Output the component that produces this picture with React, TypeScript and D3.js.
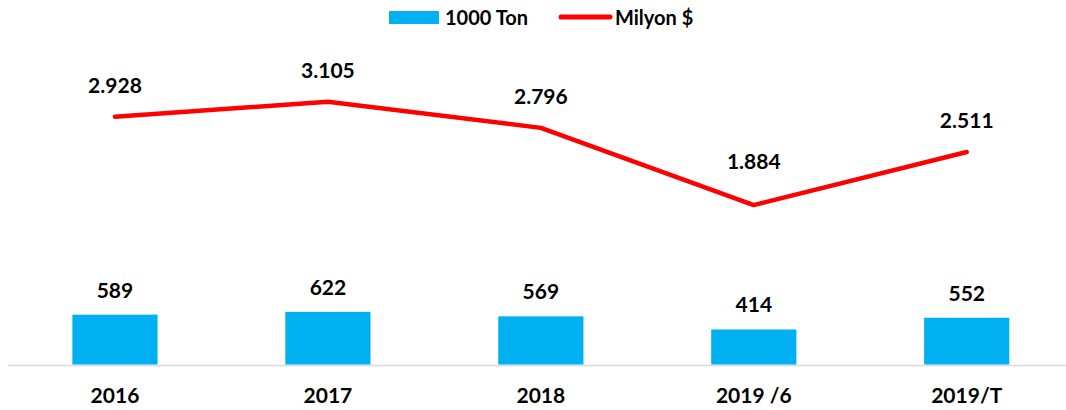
import React from "react";
import * as d3 from "d3";

const categories = ["2016", "2017", "2018", "2019 /6", "2019/T"];
const tonValues = [589, 622, 569, 414, 552];
const usdValues = [2.928, 3.105, 2.796, 1.884, 2.511];

const W = 1066;
const H = 410;
const FONT = "Lato, 'Liberation Sans', sans-serif";

const App = () => {
  const x = d3.scaleBand().domain(categories).range([8.5, 1073.2]).padding(0);
  const bw = x.bandwidth();
  const barW = bw * 0.4;
  const yLine = d3.scaleLinear().domain([0, 4]).range([364.5, 26]);
  const yBar = d3.scaleLinear().domain([0, 4000]).range([364.5, 26]);
  const cx = (c) => (x(c) as number) + bw / 2;

  const line = d3
    .line<number>()
    .x((_, i) => cx(categories[i]))
    .y((d) => yLine(d));

  const fmt = (v) => d3.format(".3f")(v);
  const minUsd = d3.min(usdValues);

  return (
    <svg width={W} height={H} style={{ position: "absolute", left: 0, top: 0 }}>
      <rect width={W} height={H} fill="#fff" />
      {/* legend */}
      <rect x={389} y={11} width={50} height={13} fill="#00b0f0" />
      <text x={445} y={25} fontFamily={FONT} fontWeight="bold" fontSize={20}>
        1000 Ton
      </text>
      <line x1={561} x2={610} y1={17} y2={17} stroke="#ff0000" strokeWidth={5} strokeLinecap="round" />
      <text x={615} y={25} fontFamily={FONT} fontWeight="bold" fontSize={20}>
        Milyon $
      </text>

      {/* axis line */}
      <line x1={8} x2={W} y1={365.5} y2={365.5} stroke="#d9d9d9" strokeWidth={1.5} />

      {/* bars */}
      {tonValues.map((v, i) => (
        <g key={categories[i]}>
          <rect
            x={cx(categories[i]) - barW / 2}
            y={yBar(v)}
            width={barW}
            height={yBar(0) - yBar(v)}
            fill="#00b0f0"
          />
          <text
            x={cx(categories[i])}
            y={yBar(v) - 17}
            textAnchor="middle"
            fontFamily={FONT}
            fontWeight="bold"
            fontSize={21}
          >
            {v}
          </text>
          <text
            x={cx(categories[i])}
            y={403}
            textAnchor="middle"
            fontFamily={FONT}
            fontWeight="bold"
            fontSize={21}
          >
            {categories[i]}
          </text>
        </g>
      ))}

      {/* line */}
      <path d={line(usdValues) || ""} fill="none" stroke="#ff0000" strokeWidth={4.5} strokeLinecap="round" strokeLinejoin="round" />
      {usdValues.map((v, i) => (
        <text
          key={categories[i]}
          x={cx(categories[i])}
          y={yLine(v) - (v === minUsd ? 36 : 24)}
          textAnchor="middle"
          fontFamily={FONT}
          fontWeight="bold"
          fontSize={21}
        >
          {fmt(v)}
        </text>
      ))}
    </svg>
  );
};

export default App;
